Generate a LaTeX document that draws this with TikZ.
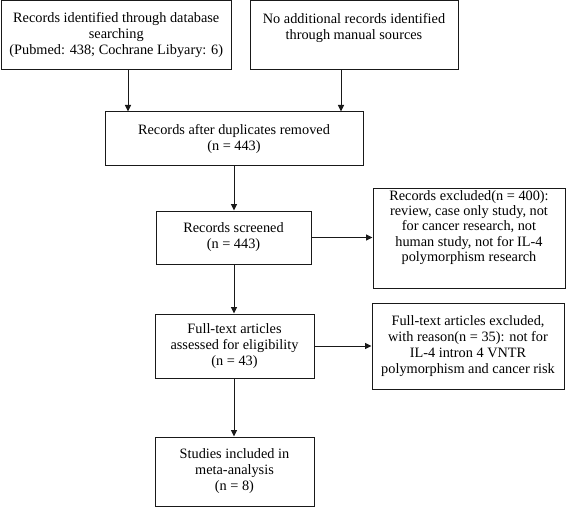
\documentclass[tikz,border=0pt]{standalone}
\usepackage{fontspec}
\setmainfont{Liberation Serif}
\usetikzlibrary{arrows.meta}
\begin{document}
\begin{tikzpicture}[x=1pt,y=-1pt,
  box/.style={draw=black!90, line width=1pt, inner sep=0pt, anchor=center},
  txt/.style={align=center, inner sep=0pt, font=\fontsize{14.3}{16}\selectfont},
  txtb/.style={align=center, inner sep=0pt, font=\fontsize{14.3}{15.3}\selectfont},
  arr/.style={draw=black!90, line width=1pt, -{Triangle[length=6.5pt,width=6pt]}}]
\useasboundingbox (0,0) rectangle (567,508);
% boxes
\node[box, minimum width=229.5pt, minimum height=69pt, txt] (A) at (116.25,35.5)
  {Records identified through database\\searching\\(Pubmed: 438; Cochrane Libyary: 6)};
\node[box, minimum width=208pt, minimum height=69pt] (B) at (354,35.5) {};
\node[txt] (Bt) at (354,28) {No additional records identified\\through manual sources};
\node[box, minimum width=258pt, minimum height=53pt, txt] (C) at (234,138.5)
  {Records after duplicates removed\\(n = 443)};
\node[box, minimum width=155pt, minimum height=53pt, txt] (D) at (233.5,237.5)
  {Records screened\\(n = 443)};
\node[box, minimum width=192pt, minimum height=100pt] (E) at (469,238) {};
\node[txtb] (Et) at (469,227.5) {Records excluded(n = 400):\\review, case only study, not\\for cancer research, not\\human study, not for IL-4\\polymorphism research};
\node[box, minimum width=159pt, minimum height=64pt, txt] (F) at (234.5,346)
  {Full-text articles\\assessed for eligibility\\(n = 43)};
\node[box, minimum width=192pt, minimum height=86pt, txt] (G) at (468,346)
  {Full-text articles excluded,\\with reason(n = 35): not for\\IL-4 intron 4 VNTR\\polymorphism and cancer risk};
\node[box, minimum width=159pt, minimum height=69pt, txt] (H) at (234.5,471.5)
  {Studies included in\\meta-analysis\\(n = 8)};
% connector columns
\coordinate (xa) at (128,0);
\coordinate (xb) at (341,0);
\coordinate (xc) at (234,0);
% connectors
\draw[arr] (A.south -| xa) -- (C.north -| xa);
\draw[arr] (B.south -| xb) -- (C.north -| xb);
\draw[arr] (C.south -| xc) -- (D.north -| xc);
\draw[arr] (D.east) -- (E.west |- D.east);
\draw[arr] (D.south -| xc) -- (F.north -| xc);
\draw[arr] (F.east) -- (G.west |- F.east);
\draw[arr] (F.south -| xc) -- (H.north -| xc);
\end{tikzpicture}
\end{document}
